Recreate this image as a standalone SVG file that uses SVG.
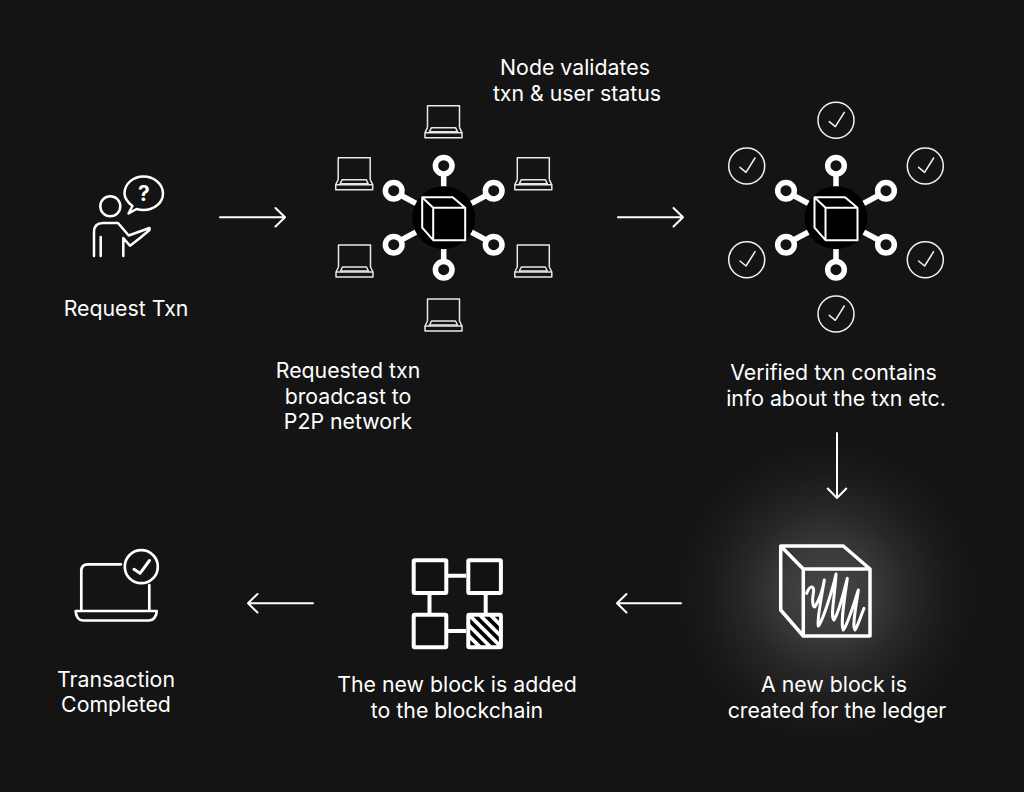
<svg xmlns="http://www.w3.org/2000/svg" xmlns:xlink="http://www.w3.org/1999/xlink" width="1024" height="792" viewBox="0 0 1024 792">
<style>
.t{font-family:Inter,"Liberation Sans",sans-serif;font-size:21.300px;fill:#fff;text-anchor:middle}
.l{fill:none;stroke:#fff;stroke-linecap:round;stroke-linejoin:round}
.arrow{fill:none;stroke:#fff;stroke-width:2;stroke-linecap:round;stroke-linejoin:round}
</style>
<defs>
<radialGradient id="glow"><stop offset="0" stop-color="#484848"/><stop offset=".3" stop-color="#3a3a3a"/><stop offset=".55" stop-color="#272727"/><stop offset=".8" stop-color="#1a1a1a"/><stop offset="1" stop-color="#141414"/></radialGradient>
<pattern id="hatch" width="7.500" height="7.500" patternUnits="userSpaceOnUse" patternTransform="rotate(-45)"><rect width="7.500" height="7.500" fill="#000"/><rect width="3.750" height="7.500" fill="#fff"/></pattern>
<g id="hub">
<g fill="none" stroke="#fff" stroke-width="5.500">
<line x1="0" y1="-43" x2="0" y2="-31"/><line x1="0" y1="43" x2="0" y2="31"/>
<line x1="-42" y1="-22" x2="-27" y2="-14"/><line x1="42" y1="-22" x2="27" y2="-14"/>
<line x1="-42" y1="22" x2="-27" y2="14"/><line x1="42" y1="22" x2="27" y2="14"/>
<circle cx="0" cy="-52" r="8.300"/><circle cx="0" cy="52" r="8.300"/>
<circle cx="-50" cy="-27" r="8.300"/><circle cx="50" cy="-27" r="8.300"/>
<circle cx="-50" cy="27" r="8.300"/><circle cx="50" cy="27" r="8.300"/>
</g>
<circle r="31.500" fill="#000"/>
<path d="M-21.500-20.500H9L21.500-10V22.500H-10.500L-21.500 10Z M-21.500-20.500L-10.500-10H21.500M-10.500-10V22.500" fill="#000" stroke="#fff" stroke-width="2" stroke-linejoin="round"/>
</g>
<g id="laptop" fill="none" stroke="#e8e8e8" stroke-width="1.500" stroke-linejoin="round">
<path d="M-16 22V0H16V22"/>
<path d="M-12 22H12L14 26H-14Z M-3 26H3"/>
<path d="M-16 22L-18.500 27V32H18.500V27L16 22M-18.500 27H18.500"/>
</g>
<g id="check"><circle r="18" fill="none" stroke="#f2f2f2" stroke-width="1.500"/><path d="M-6.700 1.300L-.7 6.300L8.300-8" fill="none" stroke="#f2f2f2" stroke-width="1.500" stroke-linecap="round" stroke-linejoin="round"/></g>
</defs>
<rect width="1024" height="792" fill="#141414"/>
<circle cx="827" cy="592" r="150" fill="url(#glow)"/>

<g id="connectors">
<path class="arrow" d="M220 217.300H285M275.500 208L285 217.300L275.500 226.500"/>
<path class="arrow" d="M618 217.300H683M673.500 208L683 217.300L673.500 226.500"/>
<path class="arrow" d="M837 433V498M827.700 488.500L837 498L846.300 488.500"/>
<path class="arrow" d="M681 603.300H617M626.500 594L617 603.300L626.500 612.500"/>
<path class="arrow" d="M313 603.300H248M257.500 594L248 603.300L257.500 612.500"/>
</g>

<g id="node-request">
<circle class="l" stroke-width="2.500" cx="110.300" cy="206.300" r="10"/>
<path class="l" stroke-width="2.500" d="M128.500 213.500L132.500 206C126.500 201.500 124.500 197.500 124.500 193.500C124.500 184 133 176.500 143.500 176.500C154 176.500 163 184 163 193.500C163 203 154 210 143.500 210C141 210 138.500 209.600 136.500 209Z"/>
<path class="l" stroke-width="2.500" d="M94 256V232Q94 223 103 223H118L128.700 235.500L149.500 228V230L140 238L130 245.700L123.300 238V256M100.700 237V256"/>
<text x="144" y="201" font-family="Inter,'Liberation Sans',sans-serif" font-size="21" font-weight="700" fill="#fff" text-anchor="middle">?</text>
<text class="t" x="126" y="315.500">Request Txn</text>
</g>

<g id="node-broadcast">
<use xlink:href="#hub" x="443.700" y="217.700"/>
<use xlink:href="#laptop" x="443.500" y="105.700"/>
<use xlink:href="#laptop" x="354.200" y="157.700"/>
<use xlink:href="#laptop" x="533.300" y="157.700"/>
<use xlink:href="#laptop" x="354.500" y="245"/>
<use xlink:href="#laptop" x="533.300" y="245"/>
<use xlink:href="#laptop" x="443.500" y="299"/>
<text class="t" x="348" y="377.500">Requested txn</text>
<text class="t" x="348" y="403.500">broadcast to</text>
<text class="t" x="348" y="428.500">P2P network</text>
</g>

<g id="node-validate">
<use xlink:href="#hub" x="836" y="217.700"/>
<use xlink:href="#check" x="836" y="120.300"/>
<use xlink:href="#check" x="746.700" y="166"/>
<use xlink:href="#check" x="925.300" y="166"/>
<use xlink:href="#check" x="746.700" y="259.700"/>
<use xlink:href="#check" x="925.300" y="259.700"/>
<use xlink:href="#check" x="836" y="314"/>
<text class="t" x="575" y="75">Node validates</text>
<text class="t" x="577" y="101">txn &amp; user status</text>
<text class="t" x="833.500" y="380">Verified txn contains</text>
<text class="t" x="836" y="405.500">info about the txn etc.</text>
</g>

<g id="node-new-block">
<path class="l" stroke-width="3.500" d="M780.700 546H843.300L870 569V636H803.300L780.700 610ZM780.700 546L803.300 569H870M803.300 569V636"/>
<path class="l" transform="translate(760 530) scale(.3333)" d="M140 190C150 165 165 165 160 190C155 215 160 235 165 230C180 205 190 170 193 150C185 200 170 270 175 288C190 270 220 170 228 132C225 200 210 260 222 270C240 240 255 170 262 145C255 200 240 280 250 300C265 280 285 210 295 180C290 220 275 290 285 300C295 285 305 250 312 235" style="stroke-width:9"/>
<text class="t" x="834" y="691.500">A new block is</text>
<text class="t" x="837" y="717.500">created for the ledger</text>
</g>

<g id="node-blockchain">
<g fill="none" stroke="#fff" stroke-width="4">
<path d="M448 575.700H466M448 631H466M429.500 595V613M485.700 595V613"/>
<rect x="413.700" y="560.300" width="32.600" height="32.600" rx="1" fill="#111"/>
<rect x="468.300" y="560.300" width="32.600" height="32.600" rx="1" fill="#111"/>
<rect x="413.700" y="614.700" width="32.600" height="32.600" rx="1" fill="#111"/>
<rect x="468.300" y="614.700" width="32.600" height="32.600" rx="1" fill="url(#hatch)"/>
</g>
<text class="t" x="457" y="691.500">The new block is added</text>
<text class="t" x="457" y="717.500">to the blockchain</text>
</g>

<g id="node-completed">
<path class="l" stroke-width="2.700" d="M121 564.300H88Q81.300 564.300 81.300 571V611M149.300 585V611M75.700 611H156.700C156.700 617 153 620.500 149 620.500H83C79 620.500 75.700 617 75.700 611Z"/>
<circle class="l" stroke-width="2.700" cx="141.300" cy="566.700" r="16.500"/>
<path class="l" stroke-width="3" d="M134 569.300L140 573.300L149.500 560.500"/>
<text class="t" x="116" y="686.500">Transaction</text>
<text class="t" x="116" y="711.500">Completed</text>
</g>
</svg>
